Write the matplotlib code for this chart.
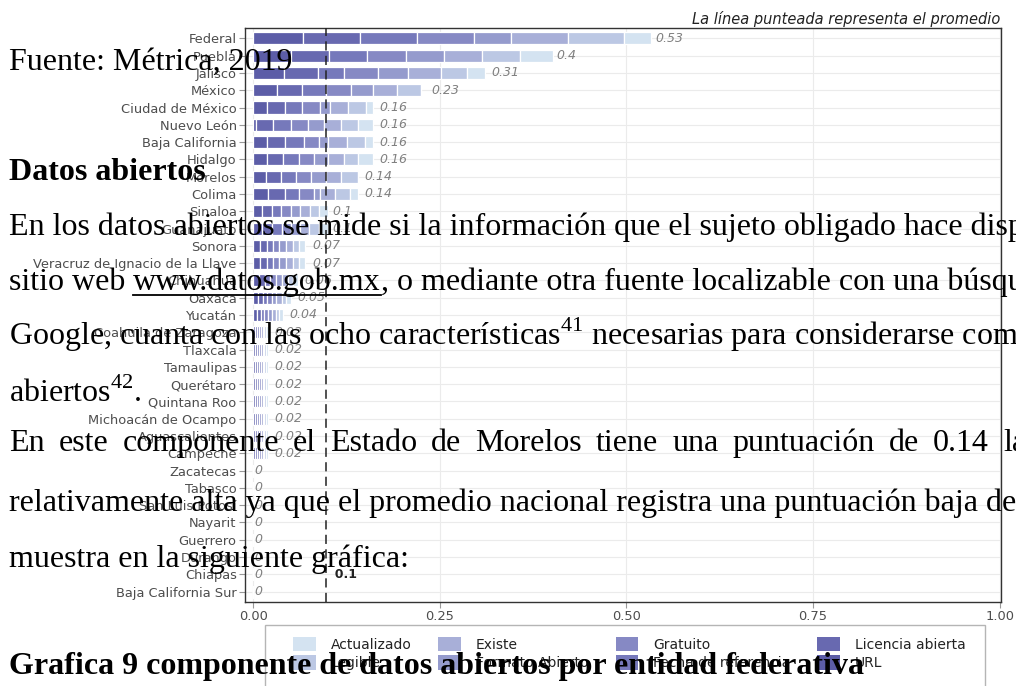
import matplotlib
matplotlib.use("Agg")
import matplotlib.pyplot as plt
from matplotlib.patches import Patch, Rectangle
from matplotlib.lines import Line2D
import numpy as np

# -----------------------------
# Input data
# -----------------------------

estados = ["Federal", "Puebla", "Jalisco", "México", "Ciudad de México", "Nuevo León",
           "Baja California", "Hidalgo", "Morelos", "Colima", "Sinaloa", "Guanajuato",
           "Sonora", "Veracruz de Ignacio de la Llave", "Chihuahua", "Oaxaca", "Yucatán",
           "Coahuila de Zaragoza", "Tlaxcala", "Tamaulipas", "Querétaro", "Quintana Roo",
           "Michoacán de Ocampo", "Aguascalientes", "Campeche", "Zacatecas", "Tabasco",
           "San Luis Potosí", "Nayarit", "Guerrero", "Durango", "Chiapas",
           "Baja California Sur"]

puntuacion = [0.53, 0.4, 0.31, 0.23, 0.16, 0.16, 0.16, 0.16, 0.14, 0.14, 0.1, 0.1,
              0.07, 0.07, 0.06, 0.05, 0.04, 0.02, 0.02, 0.02, 0.02, 0.02, 0.02, 0.02,
              0.02, 0, 0, 0, 0, 0, 0, 0, 0]

# component contributions, in stacking order (left to right)
url = [0.067, 0.050, 0.041, 0.032, 0.018, 0.004, 0.018, 0.019, 0.017, 0.020, 0.012, 0.012,
       0.009, 0.009, 0.008, 0.007, 0.005] + [0.0025] * 8 + [0] * 8
licencia = [0.076, 0.052, 0.046, 0.033, 0.024, 0.023, 0.025, 0.021, 0.020, 0.022, 0.013, 0.013,
            0.009, 0.009, 0.008, 0.006, 0.005] + [0.0025] * 8 + [0] * 8
fecha = [0.077, 0.051, 0.034, 0.033, 0.024, 0.023, 0.025, 0.022, 0.020, 0.020, 0.012, 0.013,
         0.008, 0.009, 0.007, 0.006, 0.005] + [0.0025] * 8 + [0] * 8
gratuito = [0.076, 0.052, 0.046, 0.033, 0.024, 0.023, 0.020, 0.019, 0.020, 0.020, 0.013, 0.012,
            0.009, 0.008, 0.008, 0.006, 0.005] + [0.0025] * 8 + [0] * 8
formato = [0.049, 0.051, 0.041, 0.029, 0.013, 0.022, 0.012, 0.019, 0.020, 0.008, 0.013, 0.013,
           0.009, 0.009, 0.007, 0.006, 0.005] + [0.0025] * 8 + [0] * 8
existe = [0.076, 0.050, 0.044, 0.032, 0.024, 0.023, 0.025, 0.021, 0.020, 0.020, 0.013, 0.012,
          0.009, 0.009, 0.008, 0.007, 0.005] + [0.0025] * 8 + [0] * 8
legible = [0.076, 0.051, 0.035, 0.033, 0.024, 0.023, 0.025, 0.019, 0.023, 0.020, 0.012, 0.013,
           0.009, 0.009, 0.007, 0.006, 0.005] + [0.0025] * 8 + [0] * 8
actualizado = [0.036, 0.044, 0.024, 0.0, 0.009, 0.019, 0.010, 0.020, 0.0, 0.010, 0.012, 0.012,
               0.008, 0.008, 0.007, 0.006, 0.005] + [0.0025] * 8 + [0] * 8

componentes = ["URL", "Licencia abierta", "Fecha de referencia", "Gratuito",
               "Formato Abierto", "Existe", "Legible", "Actualizado"]
valores = [url, licencia, fecha, gratuito, formato, existe, legible, actualizado]
colores = ["#5c5da7", "#6869b0", "#7679bb", "#8689c4", "#959bcd", "#a8afd8", "#bcc8e4", "#d4e3f1"]

# legend order (filled column by column, as in the original)
orden_leyenda = ["Actualizado", "Legible", "Existe", "Formato Abierto",
                 "Gratuito", "Fecha de referencia", "Licencia abierta", "URL"]

promedio = 0.097

# -----------------------------
# Figure
# -----------------------------

W, H = 1016, 686
fig = plt.figure(figsize=(W / 100, H / 100), dpi=100)
fig.patch.set_facecolor("white")

def px(x, y):
    return x / W, 1 - y / H

ax = fig.add_axes([245 / W, 1 - 602 / H, 755.5 / W, 574 / H])

y = np.arange(len(estados))
left = np.zeros(len(estados))
for nombre, vals, col in zip(componentes, valores, colores):
    vals = np.array(vals)
    ax.barh(y, vals, left=left, height=0.7, color=col, edgecolor="white",
            linewidth=0.9, label=nombre, zorder=2)
    left += vals

fs = 9
for i, v in enumerate(puntuacion):
    lbl = f"{v:g}"
    ax.annotate(lbl, (v, i), xytext=(0.13 * fs * len(lbl), 0), textcoords="offset points",
                ha="left", va="center", fontsize=fs, style="italic", color="#808080",
                zorder=3)

ax.axvline(promedio, color="#222222", lw=1.1, ls=(0, (6, 3.5)), zorder=4)
ax.text(promedio, 31, f"  {promedio:.1f}", ha="left", va="center", fontsize=9,
        fontweight="bold", color="#222222", zorder=4)

ax.set_xlim(-0.011, 1.001)
ax.set_ylim(len(estados) - 0.4, -0.6)
ax.set_yticks(y)
ax.set_yticklabels(estados)
ax.set_xticks([0, 0.25, 0.5, 0.75, 1.0])
ax.set_xticklabels(["0.00", "0.25", "0.50", "0.75", "1.00"])
ax.tick_params(axis="both", length=4, color="#999999", labelcolor="#4d4d4d",
               labelsize=9.4, pad=2)
ax.grid(True, color="#ebebeb", lw=0.8, zorder=0)
ax.set_axisbelow(True)
for s in ax.spines.values():
    s.set_color("#333333")
    s.set_linewidth(1.0)

ax.set_title("La línea punteada representa el promedio", loc="right", style="italic",
             fontsize=10.5, color="#222222", pad=3)

# legend: frame drawn by hand, keys placed inside it
fig.add_artist(Rectangle(px(265, 720), 720 / W, 95 / H, transform=fig.transFigure,
                         facecolor="white", edgecolor="#b5b5b5", lw=1.0, zorder=4))
handles = [Patch(facecolor=colores[componentes.index(n)], edgecolor="none")
           for n in orden_leyenda]
fig.legend(handles, orden_leyenda, ncol=4, loc="upper left",
           bbox_to_anchor=px(293, 637), fontsize=10, frameon=False,
           borderpad=0, borderaxespad=0, handlelength=1.65, handleheight=1.2,
           columnspacing=1.95, labelspacing=0.25, handletextpad=1.05,
           labelcolor="#222222").set_zorder(5)

# -----------------------------
# Document text over the chart
# -----------------------------

plt.rcParams["mathtext.fontset"] = "custom"
plt.rcParams["mathtext.rm"] = "Liberation Serif"
serif = dict(family="Liberation Serif", fontsize=23, color="black", va="baseline",
             ha="left", zorder=10)

fig.text(*px(9, 70), "Fuente: Métrica, 2019", **serif)
fig.text(*px(9, 180), "Datos abiertos", fontweight="bold", **serif)
fig.text(*px(9, 235), "En los datos abiertos se mide si la información que el sujeto "
         "obligado hace disponible", **serif)

r = fig.canvas.get_renderer()
t1 = fig.text(*px(9, 290), "sitio web", **serif)
sp = fig.text(0, 0, "a a", **serif)
a1 = fig.text(0, 0, "aa", **serif)
espacio = sp.get_window_extent(r).width - a1.get_window_extent(r).width
sp.remove()
a1.remove()
x0 = t1.get_window_extent(r).x1 + espacio
t2 = fig.text(x0 / W, 1 - 290 / H, "www.datos.gob.mx", **serif)
bb = t2.get_window_extent(r)
fig.add_artist(Line2D([bb.x0 / W, bb.x1 / W], [1 - 295 / H, 1 - 295 / H],
                      transform=fig.transFigure, color="black", lw=1.3, zorder=10))
fig.text(bb.x1 / W, 1 - 290 / H, ", o mediante otra fuente localizable con una búsqueda",
         **serif)

fig.text(*px(9, 345), "Google, cuanta con las ocho características$^{41}$ necesarias "
         "para considerarse como datos", **serif)
fig.text(*px(9, 402), "abiertos$^{42}$.", **serif)

# justified line: words spaced out
palabras = "En este componente el Estado de Morelos tiene una puntuación de 0.14 la".split()
xw = 9
for p in palabras:
    t = fig.text(xw / W, 1 - 451 / H, p, **serif)
    xw = t.get_window_extent(r).x1 + 14

fig.text(*px(9, 511), "relativamente alta ya que el promedio nacional registra una "
         "puntuación baja de", **serif)
fig.text(*px(9, 567), "muestra en la siguiente gráfica:", **serif)
fig.text(*px(9, 674), "Grafica 9 componente de datos abiertos por entidad federativa",
         fontweight="bold", **serif)

fig.savefig("out.png", dpi=100, facecolor="white")
